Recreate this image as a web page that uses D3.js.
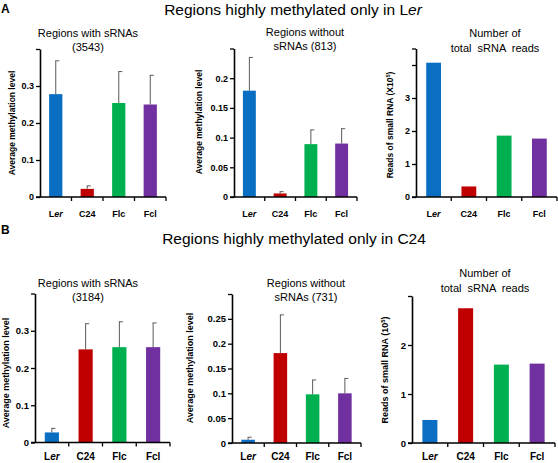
<!DOCTYPE html>
<html><head><meta charset="utf-8">
<script src="https://cdn.jsdelivr.net/npm/d3@7"></script>
<style>body{margin:0;background:#fff} svg{display:block;font-family:"Liberation Sans",Arial,sans-serif} text{white-space:pre}</style>
</head><body><svg id="c" width="558" height="463"></svg>
<script>
// ---------- data ----------
const categories = ["Ler", "C24", "Flc", "Fcl"];
const barColors = ["#0a6fc2", "#c00000", "#00b050", "#7030a0"];

const aWithValues    = [0.278, 0.022, 0.254, 0.250];
const aWithErrors    = [0.090, 0.008, 0.085, 0.079];
const aWithoutValues = [0.179, 0.006, 0.089, 0.090];
const aWithoutErrors = [0.056, 0.003, 0.024, 0.025];
const aReadValues    = [4.07, 0.32, 1.86, 1.77];

const bWithValues    = [0.027, 0.250, 0.256, 0.256];
const bWithErrors    = [0.011, 0.069, 0.068, 0.065];
const bWithoutValues = [0.0066, 0.181, 0.098, 0.100];
const bWithoutErrors = [0.005, 0.077, 0.029, 0.030];
const bReadValues    = [0.47, 2.75, 1.60, 1.62];

const ticksWith    = [0, 0.1, 0.2, 0.3];
const ticksAWithout = [0, 0.05, 0.1, 0.15, 0.2];
const ticksBWithout = [0, 0.05, 0.1, 0.15, 0.2, 0.25];
const ticksAReads  = [0, 1, 2, 3];
const ticksBReads  = [0, 1, 2];

// ---------- drawing ----------
const svg = d3.select("#c");
svg.append("rect").attr("width", 558).attr("height", 463).attr("fill", "#fff");

function label(x, y, txt, size, weight) {
  return svg.append("text").attr("x", x).attr("y", y).attr("font-size", size)
    .attr("font-weight", weight || "normal").attr("fill", "#000").text(txt);
}

// panel letters & main titles
label(1, 13, "A", 12, "bold");
label(1, 234, "B", 12, "bold");
const tA = svg.append("text").attr("x", 293).attr("y", 15).attr("text-anchor", "middle")
  .attr("font-size", 15.5).attr("fill", "#000");
tA.append("tspan").text("Regions highly methylated only in L");
tA.append("tspan").attr("font-style", "italic").text("er");
svg.append("text").attr("x", 294).attr("y", 244).attr("text-anchor", "middle")
  .attr("font-size", 15.5).attr("fill", "#000").text("Regions highly methylated only in C24");

function panel(p) {
  const g = svg.append("g");
  const y = d3.scaleLinear().domain([0, p.max]).range([p.y0, p.y1]);
  const x = d3.scaleBand().domain(categories).range([p.x0, p.x1]);
  const bw = x.bandwidth() * 0.42;

  // bars
  g.selectAll("rect.bar").data(p.values).join("rect")
    .attr("x", (d, i) => x(categories[i]) + (x.bandwidth() - bw) / 2)
    .attr("y", d => y(d))
    .attr("width", bw)
    .attr("height", d => p.y0 - y(d))
    .attr("fill", (d, i) => barColors[i]);

  // error bars (upper only)
  if (p.errors) {
    p.errors.forEach((e, i) => {
      const cx = x(categories[i]) + x.bandwidth() / 2;
      const top = y(p.values[i] + e);
      g.append("line").attr("x1", cx).attr("x2", cx).attr("y1", y(p.values[i])).attr("y2", top)
        .attr("stroke", "#5a5a5a").attr("stroke-width", 1);
      g.append("line").attr("x1", cx - 0.5).attr("x2", cx + 3.5).attr("y1", top).attr("y2", top)
        .attr("stroke", "#5a5a5a").attr("stroke-width", 1);
    });
  }

  // y axis
  const allTicks = p.ticks.concat(p.extraTicks || []);
  const ax = d3.axisLeft(y).tickValues(allTicks).tickSize(4).tickSizeOuter(0)
    .tickFormat(d => p.ticks.includes(d) ? String(d) : "");
  const ag = g.append("g").attr("transform", `translate(${p.x0},0)`).call(ax);
  ag.select(".domain").attr("stroke", "#000").attr("stroke-width", 1.6);
  ag.selectAll(".tick line").attr("stroke", "#000").attr("stroke-width", 1.3);
  ag.selectAll(".tick text").attr("font-size", p.tickSize).attr("font-weight", "bold")
    .attr("font-family", '"Liberation Sans",Arial,sans-serif').attr("fill", "#000").attr("x", -6);

  // x axis
  g.append("line").attr("x1", p.x0 - 4).attr("x2", p.x1).attr("y1", p.y0).attr("y2", p.y0)
    .attr("stroke", "#000").attr("stroke-width", 1.6);
  categories.forEach((c, i) => {
    const tx = x(c) + x.bandwidth();
    g.append("line").attr("x1", tx).attr("x2", tx).attr("y1", p.y0).attr("y2", p.y0 + 4)
      .attr("stroke", "#000").attr("stroke-width", 1.3);
    const t = g.append("text").attr("x", x(c) + x.bandwidth() / 2).attr("y", p.y0 + p.xlabOff)
      .attr("text-anchor", "middle").attr("font-size", p.xlabSize).attr("font-weight", "bold").attr("fill", "#000");
    if (c === "Ler") {
      t.append("tspan").text("L");
      t.append("tspan").attr("font-style", "italic").text("er");
    } else t.text(c);
  });

  // panel title
  p.title.forEach((line, i) => {
    g.append("text").attr("x", p.tx).attr("y", p.ty + i * p.tdy).attr("text-anchor", "middle")
      .attr("font-size", p.tsize).attr("fill", "#000").text(line);
  });

  // y label
  const yl = g.append("text").attr("transform", `translate(${p.ylx},${p.yly}) rotate(-90)`)
    .attr("text-anchor", "middle").attr("font-size", p.ylsize).attr("font-weight", "bold").attr("fill", "#000");
  yl.append("tspan").text(p.ylab);
  if (p.ylabSup) {
    yl.append("tspan").attr("dy", -3).attr("font-size", p.ylsize * 0.65).text(p.ylabSup);
    yl.append("tspan").attr("dy", 3).text(")");
  }
}

panel({x0: 40, x1: 166, y0: 197, y1: 49, max: 0.4, ticks: ticksWith, extraTicks: [0.4],
  values: aWithValues, errors: aWithErrors, title: ["Regions with sRNAs", "(3543)"],
  tx: 88, ty: 37, tdy: 14, tsize: 11, ylab: "Average methylation level", ylx: 15, yly: 123, ylsize: 8.5,
  tickSize: 9, xlabSize: 9, xlabOff: 20});
panel({x0: 234, x1: 357, y0: 197, y1: 48.5, max: 0.25, ticks: ticksAWithout, extraTicks: [0.25],
  values: aWithoutValues, errors: aWithoutErrors, title: ["Regions without", "sRNAs (813)"],
  tx: 305, ty: 36, tdy: 14, tsize: 11, ylab: "Average methylation level", ylx: 202, yly: 122, ylsize: 8.5,
  tickSize: 9, xlabSize: 9, xlabOff: 20});
panel({x0: 416, x1: 557, y0: 197, y1: 48.5, max: 4.5, ticks: ticksAReads, extraTicks: [4, 4.5],
  values: aReadValues, errors: null, title: ["Number of", "total  sRNA  reads"],
  tx: 495, ty: 37, tdy: 14.5, tsize: 11, ylab: "Reads of small RNA (X10", ylabSup: "5", ylx: 393, yly: 125, ylsize: 8.5,
  tickSize: 9, xlabSize: 9, xlabOff: 20});

panel({x0: 35, x1: 170, y0: 442.5, y1: 293.5, max: 0.4, ticks: ticksWith, extraTicks: [0.4],
  values: bWithValues, errors: bWithErrors, title: ["Regions with sRNAs", "(3184)"],
  tx: 88, ty: 287, tdy: 13.5, tsize: 11, ylab: "Average methylation level", ylx: 9, yly: 373, ylsize: 9,
  tickSize: 9.5, xlabSize: 10, xlabOff: 17});
panel({x0: 232, x1: 361, y0: 443, y1: 294, max: 0.3, ticks: ticksBWithout, extraTicks: [0.3],
  values: bWithoutValues, errors: bWithoutErrors, title: ["Regions without", "sRNAs (731)"],
  tx: 306, ty: 287, tdy: 14, tsize: 11, ylab: "Average methylation level", ylx: 193, yly: 368, ylsize: 9,
  tickSize: 9.5, xlabSize: 10, xlabOff: 17});
panel({x0: 412, x1: 555, y0: 443, y1: 296, max: 3, ticks: ticksBReads, extraTicks: [3],
  values: bReadValues, errors: null, title: ["Number of", "total  sRNA  reads"],
  tx: 485, ty: 277, tdy: 15, tsize: 11, ylab: "Reads of small RNA (10", ylabSup: "5", ylx: 388, yly: 370, ylsize: 9,
  tickSize: 9.5, xlabSize: 10, xlabOff: 17});
</script>
</body></html>
